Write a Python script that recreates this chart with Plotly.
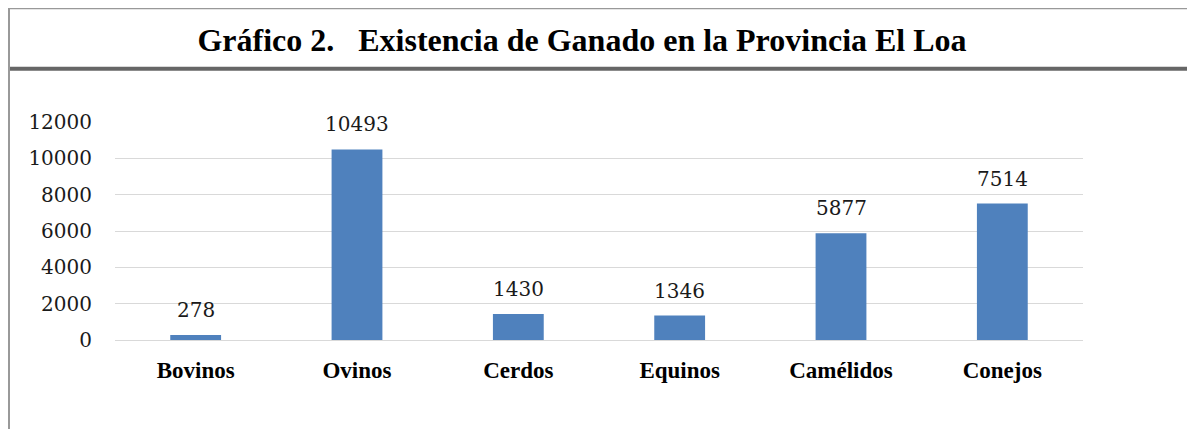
import plotly.graph_objects as go

categories = ["Bovinos", "Ovinos", "Cerdos", "Equinos", "Camélidos", "Conejos"]
values = [278, 10493, 1430, 1346, 5877, 7514]
tick_vals = [0, 2000, 4000, 6000, 8000, 10000, 12000]
title_text = "Gráfico 2.   Existencia de Ganado en la Provincia El Loa"

# page body has an 8px margin; figure coords = page coords - 8
OFF = 8
W, H = 1195 - OFF, 429 - OFF
L, T = 115 - OFF, 122 - OFF
R = W - (1083 - OFF)
B = H - (340 - OFF)
pw, ph = W - L - R, H - T - B

def px_x(x_page):
    return (x_page - OFF - L) / pw

def px_y(y_page):
    return (H - B - (y_page - OFF)) / ph

fig = go.Figure()
fig.add_trace(go.Bar(
    x=categories, y=values,
    marker=dict(color="#4F81BD", line=dict(width=0)),
    width=0.315,
    hoverinfo="x+y",
))

for c, v in zip(categories, values):
    fig.add_annotation(x=c, y=v, text=str(v), showarrow=False, xref="x", yref="y",
                       yanchor="middle", yshift=25,
                       font=dict(family="DejaVu Serif", size=20, color="#1a1a1a"))

shapes = [
    dict(type="line", xref="paper", yref="paper", x0=px_x(8), x1=px_x(1300), y0=px_y(8.5), y1=px_y(8.5),
         line=dict(color="#999999", width=1.5)),
    dict(type="line", xref="paper", yref="paper", x0=px_x(8), x1=px_x(1300), y0=px_y(68.7), y1=px_y(68.7),
         line=dict(color="#666666", width=4)),
    dict(type="line", xref="paper", yref="paper", x0=px_x(9), x1=px_x(9), y0=px_y(8), y1=px_y(440),
         line=dict(color="#999999", width=2)),
]

fig.update_layout(
    width=W, height=H,
    margin=dict(l=L, r=R, t=T, b=B),
    paper_bgcolor="white", plot_bgcolor="white",
    showlegend=False,
    shapes=shapes,
    title=dict(text=title_text, x=(582 - OFF) / W, xanchor="center", y=1 - (40 - OFF) / H, yanchor="middle",
               font=dict(family="Liberation Serif", size=32, color="black", weight="bold")),
    xaxis=dict(showgrid=False, showline=False, ticks="", ticklabelstandoff=14,
               tickfont=dict(family="Liberation Serif", size=23, color="black", weight="bold")),
    yaxis=dict(range=[0, 12000], tickvals=tick_vals, tickformat="d",
               showgrid=True, gridcolor="#D9D9D9", gridwidth=1.3,
               zeroline=True, zerolinecolor="#D9D9D9", zerolinewidth=1.3, showline=False, ticks="",
               ticklabelstandoff=22,
               tickfont=dict(family="DejaVu Serif", size=20, color="#1a1a1a")),
)

fig.write_html("out.html")
